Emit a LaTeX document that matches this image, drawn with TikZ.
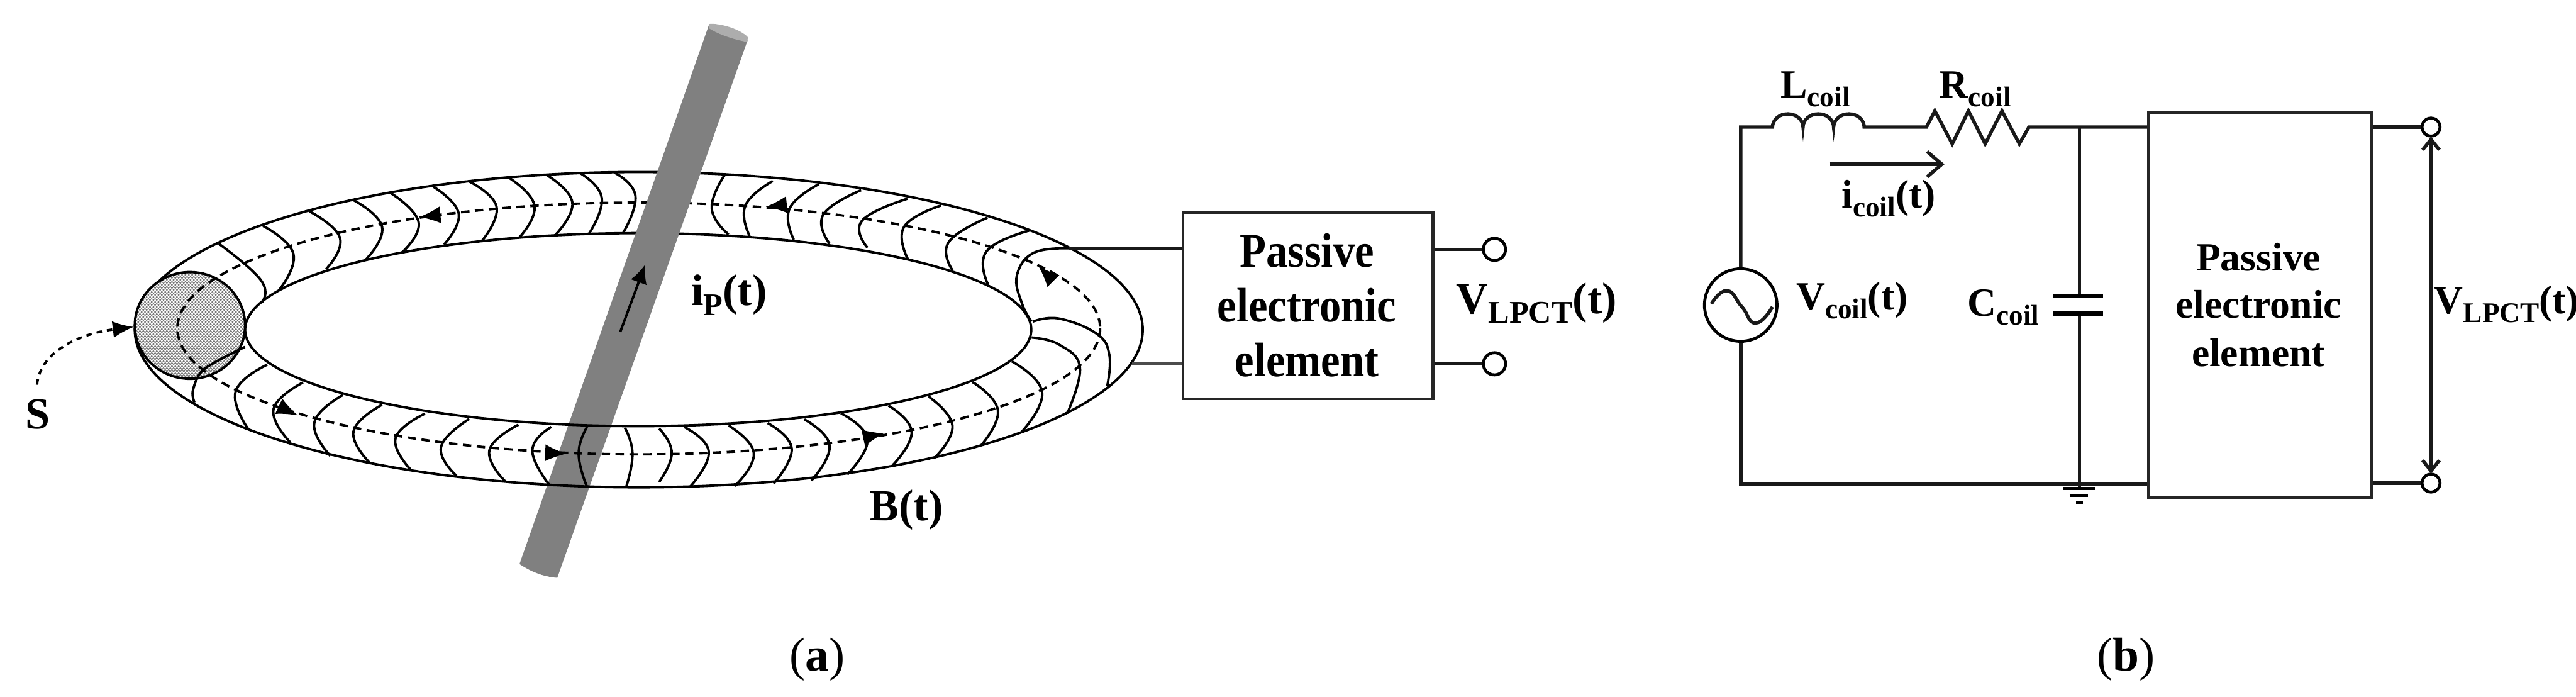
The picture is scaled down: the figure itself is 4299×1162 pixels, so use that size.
\documentclass[tikz,border=0pt]{standalone}
\usepackage{fontspec}
\setmainfont{Liberation Serif}
\usetikzlibrary{arrows.meta,patterns,calc}
\pgfdeclarepatternformonly{finecross}{\pgfqpoint{-0.1pt}{-0.1pt}}{\pgfqpoint{1.7pt}{1.7pt}}{\pgfqpoint{1.6pt}{1.6pt}}{
  \pgfsetlinewidth{0.28pt}
  \pgfpathmoveto{\pgfqpoint{0pt}{0pt}}\pgfpathlineto{\pgfqpoint{1.6pt}{1.6pt}}
  \pgfpathmoveto{\pgfqpoint{0pt}{1.6pt}}\pgfpathlineto{\pgfqpoint{1.6pt}{0pt}}
  \pgfusepath{stroke}}
\tikzset{
  wire/.style={line width=1.6pt,black!90},
  coilline/.style={line width=1.15pt},
  fluxline/.style={line width=1.15pt,dash pattern=on 4pt off 2.6pt},
  hd/.style={-{Latex[length=10pt,width=8pt]}},
  lblA/.style={inner sep=0,anchor=base west,font=\bfseries\fontsize{21}{25}\selectfont},
  lblB/.style={inner sep=0,anchor=base west,font=\bfseries\fontsize{19}{23}\selectfont},
  blk/.style={draw=black!85,line width=1.3pt,fill=white,inner sep=0},
  term/.style={circle,draw,fill=white,line width=1.4pt,inner sep=0},
  capt/.style={inner sep=0,font=\fontsize{22.5}{28}\selectfont},
}
\newcommand{\cl}[3]{\draw[coilline] plot[smooth,tension=.8] coordinates {#1 #2 #3};}
\newcommand{\sbsA}[1]{\raisebox{-.22em}{\fontsize{15}{15}\selectfont #1}}
\newcommand{\sbsB}[1]{\raisebox{-.22em}{\fontsize{13.5}{15}\selectfont #1}}
\begin{document}
\begin{tikzpicture}[x=0.01cm,y=-0.01cm]
\useasboundingbox (0,0) rectangle (4299,1162);
% --- ring, back (upper) half
\begin{scope}
\clip (0,0) rectangle (4299,550);
\draw[coilline] (1066,550) ellipse [x radius=841,y radius=263];
\draw[coilline] (1065,550) ellipse [x radius=656,y radius=161];
\draw[fluxline] (1066,548) ellipse [x radius=770,y radius=210];
\end{scope}
\begin{scope}[x=0.00702cm,y=-0.00741cm]
\cl{(1460,388)}{(1510,440)}{(1480,525)}
\cl{(1380,390)}{(1430,445)}{(1400,525)}
\cl{(1300,394)}{(1360,455)}{(1320,528)}
\cl{(1210,400)}{(1270,462)}{(1235,533)}
\cl{(1115,408)}{(1180,465)}{(1145,542)}
\cl{(1030,420)}{(1090,480)}{(1055,550)}
\cl{(930,435)}{(995,500)}{(955,568)}
\cl{(840,450)}{(908,510)}{(870,583)}
\cl{(735,475)}{(808,535)}{(775,605)}
\cl{(625,508)}{(697,570)}{(665,650)}
\cl{(520,548)}{(620,630)}{(622,680)}
\end{scope}
\begin{scope}[shift={(1100,200)},x=0.00702cm,y=-0.0051cm]
\cl{(155,182)}{(125,290)}{(165,375)}
\cl{(270,200)}{(205,280)}{(215,380)}
\cl{(380,210)}{(310,290)}{(320,392)}
\cl{(480,230)}{(390,310)}{(405,405)}
\cl{(590,258)}{(482,330)}{(495,418)}
\cl{(670,280)}{(582,350)}{(592,458)}
\cl{(780,320)}{(688,400)}{(697,492)}
\cl{(880,362)}{(778,430)}{(782,540)}
\draw[coilline] plot[smooth,tension=.7] coordinates {(975,420) (890,435) (850,510) (862,600) (885,660)};
\end{scope}
% --- current-carrying rod
\fill[black!50] (1183,42) -- (1248,66) -- (930,964) .. controls (905,962) and (885,953) .. (867,941) -- cycle;
\fill[black!32] (1183,40) .. controls (1200,38) and (1235,48) .. (1248,62) -- (1247,70) .. controls (1225,66) and (1200,58) .. (1183,47) -- cycle;
\draw[coilline,-{Latex[length=9pt,width=8pt]}] (1035,554) -- (1077,441);
% --- ring, front (lower) half
\begin{scope}
\clip (0,550) rectangle (4299,1162);
\draw[coilline] (1066,550) ellipse [x radius=841,y radius=263];
\draw[coilline] (1065,550) ellipse [x radius=656,y radius=161];
\draw[fluxline] (1066,548) ellipse [x radius=770,y radius=210];
\end{scope}
\begin{scope}[x=0.00702cm,y=-0.00741cm]
\cl{(635,820)}{(560,880)}{(590,965)}
\cl{(720,860)}{(650,920)}{(690,995)}
\cl{(815,888)}{(747,950)}{(785,1025)}
\cl{(908,910)}{(840,970)}{(880,1042)}
\cl{(1010,930)}{(940,985)}{(975,1055)}
\cl{(1115,942)}{(1048,1005)}{(1085,1070)}
\cl{(1232,955)}{(1163,1012)}{(1200,1082)}
\cl{(1310,960)}{(1265,1012)}{(1305,1090)}
\cl{(1395,960)}{(1375,1020)}{(1395,1095)}
\cl{(1485,962)}{(1503,1020)}{(1488,1095)}
\end{scope}
\begin{scope}[shift={(1100,200)},x=0.00702cm,y=-0.0051cm]
\cl{(0,1010)}{(30,1090)}{(0,1185)}
\cl{(60,1005)}{(118,1085)}{(75,1198)}
\cl{(165,1000)}{(225,1090)}{(180,1198)}
\cl{(258,992)}{(315,1075)}{(272,1190)}
\cl{(345,980)}{(405,1065)}{(362,1180)}
\cl{(432,960)}{(495,1045)}{(447,1160)}
\cl{(545,935)}{(600,1020)}{(555,1130)}
\cl{(640,905)}{(697,1000)}{(655,1105)}
\cl{(745,858)}{(805,950)}{(765,1065)}
\cl{(838,790)}{(910,890)}{(862,1020)}
\draw[coilline] plot[smooth,tension=.7] coordinates {(885,712) (950,735) (1000,810) (970,960)};
\draw[coilline] plot[smooth,tension=.7] coordinates {(888,660) (950,650) (1040,700) (1070,770) (1065,870)};
\end{scope}
% --- hatched cross-section
\fill[white] (317,543) ellipse [x radius=92,y radius=89];
\fill[pattern=finecross,pattern color=black!55] (317,543) ellipse [x radius=92,y radius=89];
\begin{scope}
\clip (317,543) ellipse [x radius=92,y radius=89];
\draw[fluxline] (1066,548) ellipse [x radius=770,y radius=210];
\end{scope}
\draw[coilline] (317,543) ellipse [x radius=92,y radius=89];
\begin{scope}[x=0.00702cm,y=-0.00741cm]
\draw[coilline] plot[smooth,tension=.6] coordinates {(582,780) (510,815) (475,840) (458,880) (462,905)};
\coordinate (sa) at (88,865);
\coordinate (sb) at (318,735);
\draw[line width=1.15pt,dash pattern=on 2.6pt off 2.4pt,-{Latex[length=10pt,width=8pt]}] (sa) .. controls (95,790) and (190,750) .. (sb);
\end{scope}
% arrowheads on the dashed flux line
\foreach \a/\b/\c/\d in {720/360/700/362, 476/683/497/693, 922/756/945/757, 1298/343/1278/345, 1452/728/1475/723, 1752/463/1733/444}{
  \draw[hd] (\a,\b) -- (\c,\d);
}
% --- (a) block
\node[blk,anchor=north west,minimum width=417*0.01cm,minimum height=311*0.01cm] (boxa) at (1972,352) {};
\node[inner sep=0,anchor=base,font=\bfseries\fontsize{20.5}{23.2}\selectfont,yscale=1.12] (ta1) at (2181,445) {Passive};
\node[inner sep=0,anchor=base,font=\bfseries\fontsize{20.5}{23.2}\selectfont,yscale=1.12] (ta2) at (2181,537) {electronic};
\node[inner sep=0,anchor=base,font=\bfseries\fontsize{20.5}{23.2}\selectfont,yscale=1.12] (ta3) at (2181,628) {element};
\coordinate (ta) at (1784,414);
\coordinate (tb) at (1889,607);
\draw[wire] (ta) -- (ta-|boxa.west);
\draw[wire,black!70] (tb) -- (tb-|boxa.west);
\node[term,minimum size=37*0.01cm] (ca1) at (2494,416) {};
\node[term,minimum size=37*0.01cm] (ca2) at (2494,607) {};
\draw[wire] (ca1-|boxa.east) -- (ca1);
\draw[wire] (ca2-|boxa.east) -- (ca2);
\node[lblA] (lv) at (2430,523) {V\sbsA{LPCT}(t)};
\node[lblA] (lip) at (1153,510) {i\sbsA{P}(t)};
\node[lblA] (lb) at (1450,868) {B(t)};
\node[lblA] (ls) at (42,715) {S};
% --- (b) circuit
\node[blk,anchor=north west,minimum width=373*0.01cm,minimum height=642*0.01cm] (boxb) at (3583,186) {};
\node[inner sep=0,anchor=base,font=\bfseries\fontsize{19}{23}\selectfont] (tb1) at (3769,452) {Passive};
\node[inner sep=0,anchor=base,font=\bfseries\fontsize{19}{23}\selectfont] (tb2) at (3769,531) {electronic};
\node[inner sep=0,anchor=base,font=\bfseries\fontsize{19}{23}\selectfont] (tb3) at (3769,611) {element};
\node[term,minimum size=121*0.01cm] (src) at (2905,509) {};
\coordinate (tl) at (2905,212);
\coordinate (bl) at (2905,807);
\coordinate (jt) at (3470,212);
\coordinate (jb) at (3470,807);
\coordinate (cp1) at (3470,494);
\coordinate (cp2) at (3470,523);
\draw[wire,line join=miter] (src.north) -- (tl) -- (2958,212) arc[start angle=180,end angle=360,x radius=25.5,y radius=22] arc[start angle=180,end angle=360,x radius=25.5,y radius=22] arc[start angle=180,end angle=360,x radius=25.5,y radius=22] -- (3215,212) -- (3229,185) -- (3258,240) -- (3285,185) -- (3313,240) -- (3341,185) -- (3370,240) -- (3386,212) -- (jt) -- (jt-|boxb.west);
\draw[wire] (src.south) -- (bl) -- (jb-|boxb.west);
\draw[wire] (jt) -- (cp1);
\draw[wire] (cp2) -- (jb);
\draw[line width=2.2pt] (3427,494) -- (3510,494);
\draw[line width=2.2pt] (3427,523) -- (3510,523);
\draw[wire] (jb) -- (3470,815);
\draw[line width=1.3pt] (3443,815) -- (3496,815) (3454,827) -- (3484,827);
\draw[line width=1.6pt] (3465,838) -- (3476,838);
\draw[wire] plot[smooth,tension=.9] coordinates {(2856,507) (2882,485) (2907,512) (2930,539) (2958,512)};
\draw[wire,-{Straight Barb[length=7pt,width=12pt,line width=1.6pt]}] (3054,274) -- (3245,274);
\node[term,minimum size=30*0.01cm] (cb1) at (4057,212) {};
\node[term,minimum size=30*0.01cm] (cb2) at (4057,806) {};
\draw[wire] (cb1-|boxb.east) -- (cb1);
\draw[wire] (cb2-|boxb.east) -- (cb2);
\draw[wire,{Straight Barb[length=5pt,width=8pt,line width=1.6pt]}-{Straight Barb[length=5pt,width=8pt,line width=1.6pt]}] ($(cb1)+(0,16)$) -- ($(cb2)+(0,-16)$);
\node[lblB] (l1) at (2971,163) {L\sbsB{coil}};
\node[lblB] (l2) at (3236,163) {R\sbsB{coil}};
\node[lblB] (l3) at (3073,347) {i\sbsB{coil}(t)};
\node[lblB] (l4) at (2997,517) {V\sbsB{coil}(t)};
\node[lblB] (l5) at (3283,527) {C\sbsB{coil}};
\node[lblB,fill=white] (l6) at (4062,523) {V\sbsB{LPCT}(t)};
% --- captions
\node[capt] (capa) at (1364,1100) {(\textbf{a})};
\node[capt] (capb) at (3548,1100) {(\textbf{b})};
\end{tikzpicture}
\end{document}
